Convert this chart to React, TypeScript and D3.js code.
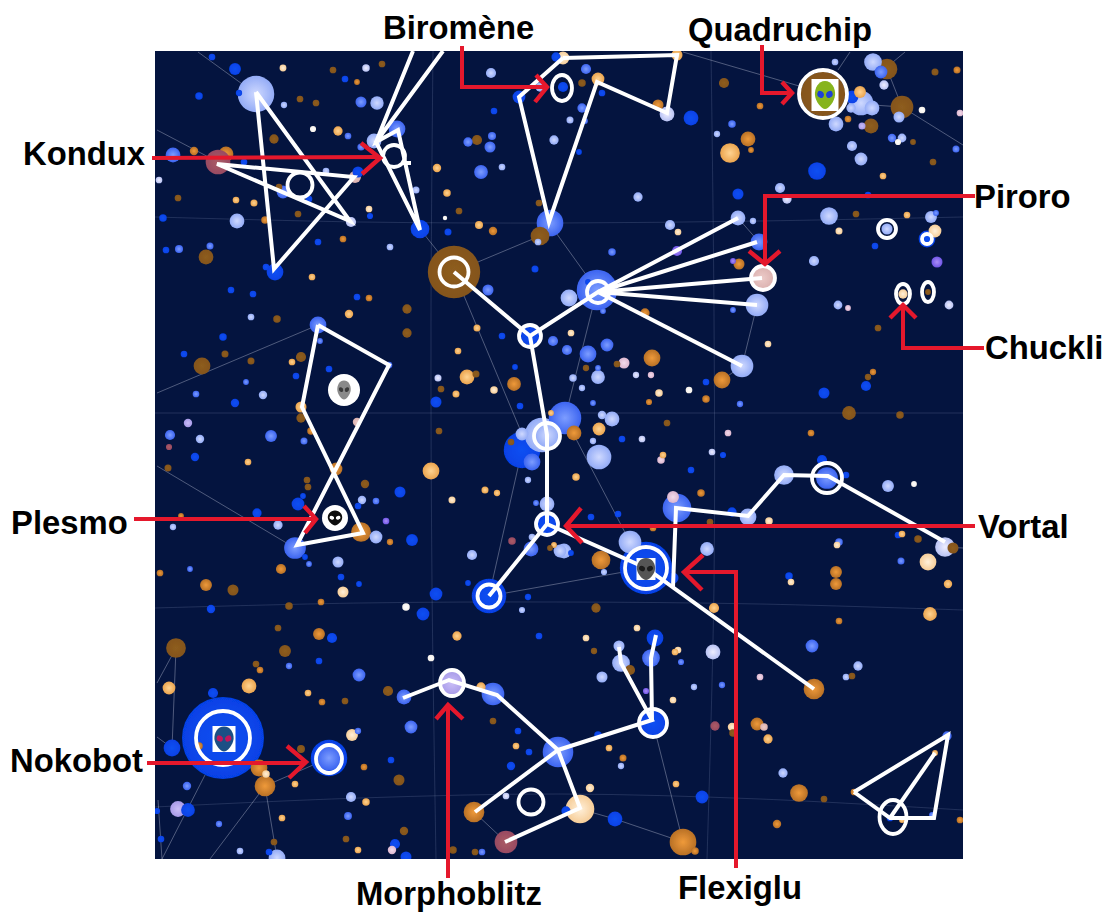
import React from "react";
import * as d3 from "d3";

type Star = [number, number, number];
type P = [number, number];

const deepBlue: Star[] = [[235,69,5.5],[212,57,2.5],[199,96,3],[239,93,2.3],[345,79,2.5],[244,162,2.5],[358,172,5],[309,199,2.5],[163,218,3],[370,216,2.2],[318,242,2.5],[420,229,9],[448,232,2.7],[166,250,2.5],[266,267,2.5],[275,272,8],[231,290,2.5],[253,294,2.5],[357,297,2.5],[535,269,2.7],[494,111,2.5],[556,57,4],[519,97,6],[563,87,4.5],[602,93,2.5],[579,152,2],[691,118,7],[738,194,5],[817,171,8.5],[588,282,2],[852,97,6],[875,246,2.5],[868,195,2.5],[927,239,8],[223,337,3],[184,354,2.5],[329,369,2.5],[296,376,2.5],[235,403,3.5],[195,457,3.5],[400,492,5],[303,496,2],[298,504,6],[358,506,2.5],[257,513,4],[412,540,5.5],[305,557,2],[341,577,2.5],[359,584,2],[502,336,2.5],[515,367,2],[436,402,5],[520,406,2.5],[530,336,9],[522,450,18],[547,524,12],[489,596,17],[468,583,2],[706,382,2.5],[824,393,5],[866,386,4.5],[622,439,2.5],[723,455,2.2],[691,470,2.5],[822,460,4.5],[846,475,2.5],[732,512,4],[591,517,2.5],[618,514,2.5],[571,553,2],[646,568,26],[673,578,5],[898,535,2.5],[789,576,3],[211,609,3.5],[423,614,6],[436,594,6],[528,597,2.3],[332,638,4.5],[539,636,2.5],[319,661,2.5],[213,693,4.5],[518,731,2.5],[529,752,2.5],[511,766,3.5],[223,738,41],[172,748,8],[329,758,18],[391,760,2.5],[188,810,6.5],[157,811,2.2],[395,844,4.5],[406,857,5],[161,839,2.5],[269,852,2.5],[655,638,8],[653,723,13],[598,735,3],[890,818,2.5],[702,797,6],[566,811,4],[615,819,7]];
const midBlue: Star[] = [[173,155,7],[361,102,5],[348,136,2.5],[361,147,2.8],[283,192,6],[179,249,3.3],[210,246,2.7],[397,129,8],[488,290,5],[550,223,13],[468,142,4],[492,136,3.3],[490,147,5],[481,172,6.5],[586,69,4.5],[582,108,4],[585,121,2],[732,124,3],[612,252,3],[759,242,8],[597,290,20],[603,311,2],[733,310,2],[881,72,6],[892,138,3.5],[956,149,2.7],[936,213,2],[318,325,8],[320,341,2],[246,382,2],[196,394,2.5],[170,435,4.5],[271,436,5.5],[376,501,2.5],[295,548,10.5],[309,564,2],[190,569,2],[304,441,2.7],[389,365,2.5],[553,341,4.5],[532,462,8],[536,503,2],[531,549,7],[565,418,16],[567,350,4.5],[588,354,8],[607,345,6],[598,368,2],[593,403,2],[740,404,2.3],[677,508,14],[827,478,10.5],[901,561,2.7],[839,542,3],[289,666,2.3],[359,675,6],[404,697,7],[493,694,11],[411,727,6],[558,752,15],[358,731,2.3],[348,816,3.2],[219,824,2.3],[482,852,2.5],[329,758,12],[651,658,8.5],[681,662,2.2],[722,685,2.3],[812,646,6],[932,815,2],[947,736,4],[187,786,3.5]];
const paleBlue: Star[] = [[256,94,18],[284,105,2.3],[377,103,6.3],[374,141,7],[326,171,2.5],[237,221,7],[416,190,2.7],[390,247,2.5],[502,167,2.5],[554,140,4],[491,73,4.5],[540,87,4],[538,242,2.5],[638,197,4],[570,120,2.7],[717,134,2.3],[670,225,4.5],[753,221,2.3],[738,218,7],[757,305,11],[569,298,8],[872,108,7],[851,108,4],[861,103,12],[836,124,7],[899,117,5],[873,62,8.5],[835,62,2.5],[852,146,4.5],[861,159,6],[902,138,3.7],[814,261,4.5],[887,229,5],[931,217,5.5],[838,305,3.7],[780,188,4.5],[829,216,8.5],[263,395,3.5],[200,439,3.5],[278,525,4],[173,527,2.3],[362,500,3.5],[376,537,6],[338,562,5],[522,434,6],[547,435,12],[542,435,17],[528,480,2.3],[547,504,7],[532,537,2.5],[472,555,4.5],[560,551,6],[251,317,2.5],[742,366,11],[598,377,6.5],[573,378,3],[582,388,2.3],[602,415,3.5],[612,419,7],[593,441,2.3],[599,457,12],[784,475,9.5],[888,486,5.5],[748,517,8],[564,551,7],[604,572,2.2],[630,542,11],[707,549,6.5],[522,610,2.2],[351,797,4.5],[240,851,2.5],[277,858,8],[619,646,5],[621,663,8.5],[602,677,5],[694,687,2.3],[858,666,4],[846,677,2.5],[783,773,4],[621,766,2.3]];
const lilac: Star[] = [[366,68,3],[159,180,2.5],[351,222,4.5],[667,114,7],[787,199,4],[884,85,4],[949,305,3.7],[438,378,2.7],[636,375,2.3],[642,439,2.5],[712,452,2.5],[945,547,9.5],[713,652,7],[506,796,2.5]];
const lavender: Star[] = [[452,683,12],[178,809,7.5],[188,423,3.5],[862,126,2.7]];
const whiteStars: Star[] = [[313,129,2.2],[445,218,1.5],[922,110,2.5],[898,142,2.2],[689,390,2.5],[914,484,2],[406,607,3],[431,658,2.5]];
const cream: Star[] = [[283,68,2.6],[369,209,2.5],[563,58,6],[678,232,2.5],[839,231,2.7],[935,231,6],[571,333,2.5],[768,344,2.5],[494,390,3],[659,393,3],[452,500,2.7],[769,521,3],[837,545,2.5],[791,582,2.5],[928,562,8],[266,774,3],[637,628,2.5],[586,638,2.5],[678,650,2.5],[673,700,2.5],[732,727,3.5],[580,809,14],[352,735,5.5],[343,592,5],[590,788,3.5],[903,294,4]];
const orange: Star[] = [[338,131,4],[236,200,2.5],[254,203,2.7],[437,168,3.5],[447,193,3],[479,225,3.3],[312,277,2.5],[349,314,3.5],[598,79,6],[730,153,9.5],[677,55,5],[907,215,2.5],[860,92,5.5],[883,176,2.5],[292,362,2.5],[301,407,5],[248,462,2.5],[477,328,2.7],[458,351,2.5],[467,377,7],[456,394,2.7],[431,471,8],[485,490,2.7],[497,493,2.3],[551,413,2],[554,545,2],[599,429,6],[576,477,3],[663,455,2.5],[902,534,2.5],[948,584,3.5],[457,636,4],[169,688,6],[249,686,7],[308,693,2.5],[516,746,2.5],[295,784,2.5],[366,802,3],[282,818,2.5],[358,850,2.5],[714,608,4.5],[609,748,2.5],[675,652,2.5],[676,784,2.5],[768,739,4],[930,614,6.5],[935,753,2],[902,820,2],[481,687,4]];
const amber: Star[] = [[194,151,3.5],[226,154,7],[265,220,3],[343,239,2.5],[357,82,2],[369,298,2.5],[493,231,3.5],[760,106,2.5],[658,105,5],[748,139,7],[739,264,5],[848,119,2.5],[957,70,2.7],[645,313,4],[311,431,3],[336,469,6],[181,516,2],[390,542,2.3],[160,573,2.5],[281,569,4.5],[206,585,5.5],[361,532,9.5],[514,384,6.5],[652,358,8],[722,380,8],[649,402,2.2],[706,399,3],[574,433,7],[811,433,2.5],[873,372,2.3],[701,493,3],[653,528,2.5],[601,560,9],[836,572,5.5],[836,584,5.5],[321,602,2.5],[319,634,5.5],[260,670,2.5],[322,702,2.5],[199,746,3],[364,767,2.5],[259,768,8],[265,786,10],[474,812,10],[757,724,6],[839,621,2.5],[854,792,2.5],[799,793,8.5],[960,820,2.5],[777,824,3.5],[623,758,2.7],[683,842,13],[695,851,3],[814,689,10],[751,150,2]];
const brown: Star[] = [[333,70,2.5],[382,64,2.5],[300,99,2.5],[316,103,2.5],[274,139,4],[279,187,2.5],[178,198,2.5],[298,214,2.5],[459,211,2.5],[206,257,7],[407,309,4],[454,272,26],[540,236,9],[539,203,2.5],[477,140,4.5],[582,83,3],[724,83,4.5],[887,69,10],[902,107,11],[871,126,7],[935,72,2.7],[913,142,2],[933,162,2.5],[856,214,2.5],[277,319,3],[225,354,2.7],[202,366,8],[251,361,2.7],[301,357,4.5],[301,418,4],[168,468,2.7],[307,480,2.5],[308,487,2.5],[365,484,3.5],[407,333,4],[476,374,2.7],[441,389,2.5],[439,431,2.5],[511,442,2.5],[550,548,2],[586,368,2.3],[617,364,2.5],[667,423,2.5],[878,328,2.5],[868,377,2.3],[849,413,6.5],[900,415,3],[710,522,2.5],[918,539,3],[953,548,5],[233,590,5],[289,606,3],[278,628,2.5],[176,648,9.5],[285,651,5.5],[256,664,2.5],[345,701,2.5],[388,691,4.5],[493,721,2.5],[301,749,3.2],[399,780,5],[404,831,3.5],[346,839,2.5],[453,850,3],[475,852,2.5],[274,842,2.5],[596,608,4],[594,651,2.3],[630,670,4.5],[733,733,3],[852,676,2.5],[824,799,2.5],[823,94,22],[928,292,2]];
const pink: Star[] = [[624,363,5],[651,375,2.3],[728,433,2.5],[661,460,3],[392,850,3.5],[760,677,2.5],[848,308,2],[960,113,2.5],[673,497,5.5]];
const blush: Star[] = [[355,177,5.5],[357,422,3.5],[762,278,12],[764,727,3]];
const rose: Star[] = [[218,162,12],[506,842,11],[169,447,2.2],[512,541,3],[715,726,4]];
const violet: Star[] = [[677,251,4.5],[733,261,2],[937,262,5],[386,521,2.5],[646,691,2.2]];

const starClasses: [string, Star[], string, string][] = [
  ["deep", deepBlue, "#1150f2", "#0641e6"],
  ["mid", midBlue, "#7d9dff", "#3c64f0"],
  ["pale", paleBlue, "#cfd9ff", "#93abf6"],
  ["lilac", lilac, "#eeeeff", "#b8c2f4"],
  ["lav", lavender, "#c9bdf7", "#a79ae8"],
  ["white", whiteStars, "#ffffff", "#f5f0ea"],
  ["cream", cream, "#fff0da", "#f6cd98"],
  ["orange", orange, "#ffd391", "#eba44e"],
  ["amber", amber, "#ef9a3a", "#b87026"],
  ["brown", brown, "#8e5d20", "#84541b"],
  ["pink", pink, "#f3dcec", "#dcb6cf"],
  ["blush", blush, "#eccbc8", "#dab0ae"],
  ["rose", rose, "#ab5c66", "#984a62"],
  ["violet", violet, "#ab8ef6", "#6f55e6"],
];

const graticules: P[][] = [
  [[155,217],[360,222],[560,223],[760,221],[963,217]],
  [[155,413],[963,413]],
  [[155,608],[360,603],[560,602],[760,604],[963,610]],
  [[155,807],[360,798],[560,794],[760,799],[963,810]],
  [[433,51],[431,315],[432,585],[436,859]],
  [[711,51],[714,315],[714,585],[707,859]],
];

const faintLines: P[][] = [
  [[198,52],[256,94]],[[157,130],[218,162]],[[420,229],[454,272]],[[454,272],[540,236]],
  [[454,272],[522,434]],[[489,596],[522,450]],[[318,325],[157,393]],[[157,466],[295,548]],
  [[489,596],[646,568]],[[597,290],[565,418]],[[565,418],[630,542]],[[757,305],[742,366]],
  [[742,366],[722,380]],[[549,223],[597,290]],[[738,218],[759,242]],[[683,52],[823,93]],
  [[838,70],[850,52]],[[873,105],[902,107]],[[887,69],[902,107]],[[893,62],[905,52]],
  [[902,107],[963,145]],[[945,547],[963,548]],[[172,748],[176,648]],[[176,648],[157,683]],
  [[172,748],[157,737]],[[205,775],[162,859]],[[265,786],[210,859]],[[265,786],[277,858]],
  [[265,786],[329,758]],[[158,800],[162,859]],[[259,768],[265,786]],[[474,812],[506,842]],
  [[580,809],[615,819],[683,842]],[[653,723],[683,842]],
];

const figures: P[][] = [
  [[256,92],[274,269],[354,177],[217,164],[350,221],[256,92]],
  [[413,51],[376,142],[398,130],[420,230],[376,142],[443,51]],
  [[403,163],[411,163]],
  [[563,58],[519,97],[549,222],[597,82],[667,113],[677,55],[563,58]],
  [[454,272],[530,336],[598,292],[738,218]],
  [[598,292],[757,242]],[[598,292],[762,278]],[[598,292],[757,305]],[[598,292],[742,366]],
  [[530,336],[547,435],[547,524],[489,596]],
  [[547,524],[646,568],[814,689]],
  [[673,587],[676,508],[748,516],[784,475],[828,476],[945,542]],
  [[318,325],[389,365],[297,545],[363,533],[302,407],[318,325]],
  [[403,698],[449,680],[497,695],[558,750],[580,808],[505,842]],
  [[558,750],[475,812]],
  [[558,750],[652,720],[621,663],[619,647]],
  [[652,720],[651,658],[656,635]],
  [[854,792],[948,735],[934,818],[890,818],[854,792]],
  [[890,818],[935,753]],
];

// cx, cy, rx, ry
const rings: [number, number, number, number][] = [
  [300,185,12.5,12.5],[394,156,11,11],[454,272,14.5,14.5],[562,88,10,13],[598,292,11,11],
  [530,336,11,11],[547,436,13,13],[547,524,11,11],[489,596,11.5,11.5],[646,568,21,21],
  [763,278,12,12],[823,94,24,24],[887,229,9,9],[927,239,5,5],[903,294,7,10],[928,292,6,10],
  [827,478,15,15],[223,738,27,27],[329,759,13,14],[452,683,12,13],[531,802,12.5,12.5],
  [653,723,14,14],[893,817,13.5,17],
];

const labels: [string, number, number][] = [
  ["Kondux",23,165],["Biromène",383,39],["Quadruchip",688,41],["Piroro",974,208],["Chuckli",985,359],
  ["Vortal",978,538],["Plesmo",11,534],["Nokobot",10,772],["Morphoblitz",356,905],["Flexiglu",678,899],
];

const arrowShafts: P[][] = [
  [[152,158],[379,157]],
  [[462,46],[462,87],[546,87]],
  [[762,45],[762,93],[791,93]],
  [[975,196],[765,196],[765,263]],
  [[984,348],[903,348],[903,306]],
  [[975,526],[567,526]],
  [[736,868],[736,572],[685,572]],
  [[147,763],[304,763]],
  [[134,519],[315,519]],
  [[448,878],[448,706]],
];
const arrowHeads: P[][] = [
  [[361,143],[380,158],[362,174]],
  [[536,75],[547,87],[535,102]],
  [[782,82],[792,93],[782,104]],
  [[749,251],[765,264],[780,251]],
  [[890,318],[903,305],[916,318]],
  [[581,508],[566,526],[582,543]],
  [[703,555],[684,572],[702,590]],
  [[287,746],[306,762],[289,778]],
  [[304,506],[316,519],[305,533]],
  [[436,719],[448,705],[463,719]],
];

const portraits: { cx: number; cy: number; w: number; h: number; head: string; eye: string; plate: string; pa: number; pb: number }[] = [
  { cx: 825, cy: 95, w: 21, h: 28, head: "#86b41c", eye: "#1b3fd8", plate: "rect", pa: 27, pb: 32 },
  { cx: 344, cy: 390, w: 14, h: 19, head: "#8a8a8a", eye: "#3a3a3a", plate: "circle", pa: 16, pb: 16 },
  { cx: 335, cy: 518, w: 15, h: 15, head: "#0a0a0a", eye: "#ffffff", plate: "circle", pa: 13, pb: 13 },
  { cx: 646, cy: 569, w: 19, h: 22, head: "#555555", eye: "#1c1c1c", plate: "rect", pa: 19, pb: 22 },
  { cx: 224, cy: 739, w: 20, h: 25, head: "#1d4f85", eye: "#c2185b", plate: "rect", pa: 23, pb: 26 },
];

const PLOT = { left: 155, right: 963, top: 51, bottom: 859 };
const x = d3.scaleLinear().domain([155, 963]).range([PLOT.left, PLOT.right]);
const y = d3.scaleLinear().domain([51, 859]).range([PLOT.top, PLOT.bottom]);
const r = d3.scaleLinear().domain([0, 2, 6, 41]).range([0, 2.9, 6.4, 41]);
const straight = d3.line<P>().x((d) => x(d[0])).y((d) => y(d[1]));
const smooth = d3.line<P>().x((d) => x(d[0])).y((d) => y(d[1])).curve(d3.curveCatmullRom);

const layer = (key: string, s: Star) => (key === "rose" ? s[2] - 7 : s[2]);
const allStars = starClasses
  .flatMap(([key, stars]) => stars.map((s) => ({ key, s })))
  .sort((a, b) => layer(b.key, b.s) - layer(a.key, a.s));

const HEAD = "M0,-0.5 C0.32,-0.5 0.5,-0.24 0.48,0 C0.45,0.24 0.17,0.5 0,0.5 C-0.17,0.5 -0.45,0.24 -0.48,0 C-0.5,-0.24 -0.32,-0.5 0,-0.5Z";

export default function App() {
  return (
    <svg width={1113} height={913} viewBox="0 0 1113 913" style={{ position: "absolute", left: 0, top: 0, background: "#fff" }}>
      <defs>
        <clipPath id="plot"><rect x={PLOT.left} y={PLOT.top} width={PLOT.right - PLOT.left} height={PLOT.bottom - PLOT.top} /></clipPath>
        <filter id="soft" x="-5%" y="-5%" width="110%" height="110%"><feGaussianBlur stdDeviation="0.55" /></filter>
        {starClasses.map(([key, , inner, outer]) => (
          <radialGradient key={key} id={`g-${key}`} cx="50%" cy="50%" r="50%">
            <stop offset="0%" stopColor={inner} />
            <stop offset="100%" stopColor={outer} />
          </radialGradient>
        ))}
      </defs>
      <rect x={PLOT.left} y={PLOT.top} width={PLOT.right - PLOT.left} height={PLOT.bottom - PLOT.top} fill="#04143f" />
      <g clipPath="url(#plot)">
        <g filter="url(#soft)">
          {graticules.map((g, i) => (
            <path key={i} d={smooth(g) as string} fill="none" stroke="#b4c0e0" strokeOpacity={0.17} strokeWidth={1} />
          ))}
          {faintLines.map((g, i) => (
            <path key={i} d={straight(g) as string} fill="none" stroke="#c8cce0" strokeOpacity={0.38} strokeWidth={1} />
          ))}
          {allStars.map(({ key, s }, i) => (
            <circle key={i} cx={x(s[0])} cy={y(s[1])} r={r(s[2])} fill={`url(#g-${key})`} />
          ))}
          {figures.map((g, i) => (
            <path key={i} d={straight(g) as string} fill="none" stroke="#fff" strokeWidth={4} strokeLinejoin="miter" />
          ))}
          {rings.map((c, i) => (
            <ellipse key={i} cx={x(c[0])} cy={y(c[1])} rx={c[2]} ry={c[3]} fill="none" stroke="#fff" strokeWidth={3.8} />
          ))}
          {portraits.map((p, i) => (
            <g key={i}>
              {p.plate === "rect"
                ? <rect x={x(p.cx) - p.pa / 2} y={y(p.cy) - p.pb / 2} width={p.pa} height={p.pb} fill="#fff" />
                : <circle cx={x(p.cx)} cy={y(p.cy)} r={p.pa} fill="#fff" />}
              <g transform={`translate(${x(p.cx)},${y(p.cy)}) scale(${p.w},${p.h})`}>
                <path d={HEAD} fill={p.head} />
                <ellipse cx={-0.21} cy={-0.02} rx={0.16} ry={0.12} fill={p.eye} transform="rotate(20 -0.21 -0.02)" />
                <ellipse cx={0.21} cy={-0.02} rx={0.16} ry={0.12} fill={p.eye} transform="rotate(-20 0.21 -0.02)" />
              </g>
            </g>
          ))}
        </g>
      </g>
      <g fill="none" stroke="#e5182c" strokeWidth={4}>
        {arrowShafts.map((g, i) => <path key={i} d={straight(g) as string} />)}
        {arrowHeads.map((g, i) => <path key={i} d={straight(g) as string} strokeWidth={4.4} />)}
      </g>
      <g fontFamily="'Liberation Sans', Arial, sans-serif" fontWeight="bold" fontSize={32.8} fill="#000">
        {labels.map(([t, lx, ly]) => <text key={t} x={lx} y={ly}>{t}</text>)}
      </g>
    </svg>
  );
}
